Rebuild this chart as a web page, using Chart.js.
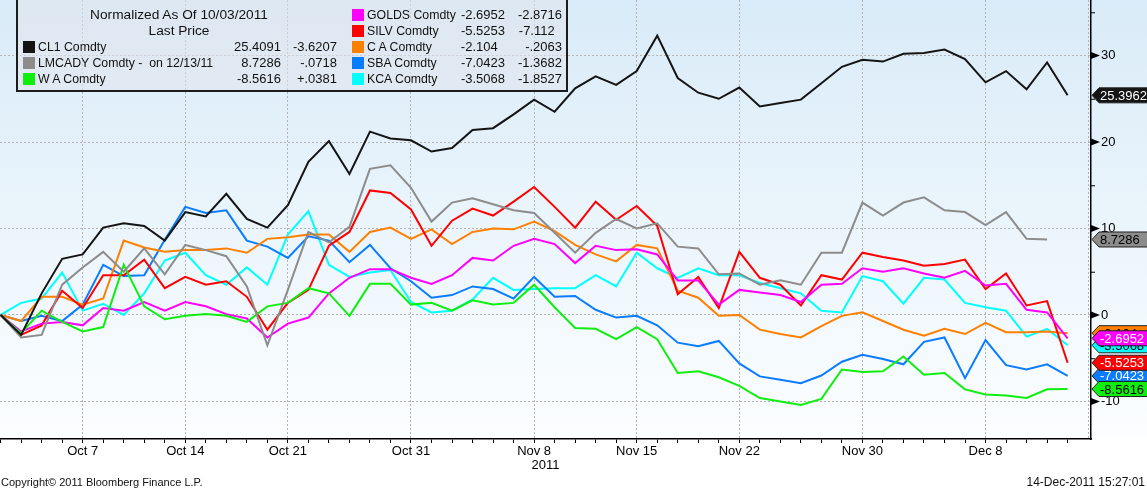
<!DOCTYPE html>
<html>
<head>
<meta charset="utf-8">
<script src="https://cdn.jsdelivr.net/npm/chart.js@4.4.0/dist/chart.umd.min.js"></script>
<style>
  html, body { margin: 0; padding: 0; background: #fff; }
  #wrap { position: relative; width: 1147px; height: 491px; overflow: hidden;
          font-family: "Liberation Sans", Arial, sans-serif; color: #111; }
  #chart { position: absolute; left: 0; top: 0; }
  #legendBox { position: absolute; left: 16px; top: -2px; width: 548px; height: 90px;
               border: 2px solid #1c1c1c; background: rgba(226, 230, 236, 0.55); }
  .txt { position: absolute; white-space: pre; line-height: 16px; height: 16px; }
  .sw { position: absolute; width: 12px; height: 12px; }
</style>
</head>
<body>
<div id="wrap">
  <canvas id="chart" width="1147" height="491"></canvas>
  <div id="legendBox"></div>
</div>
<script>
// Business days, Oct 3 - Dec 14 2011
const dates = [
    'Oct 3', 'Oct 4', 'Oct 5', 'Oct 6', 'Oct 7', 'Oct 10', 'Oct 11', 'Oct 12', 'Oct 13', 'Oct 14',
    'Oct 17', 'Oct 18', 'Oct 19', 'Oct 20', 'Oct 21', 'Oct 24', 'Oct 25', 'Oct 26', 'Oct 27', 'Oct 28',
    'Oct 31', 'Nov 1', 'Nov 2', 'Nov 3', 'Nov 4', 'Nov 7', 'Nov 8', 'Nov 9', 'Nov 10', 'Nov 11',
    'Nov 14', 'Nov 15', 'Nov 16', 'Nov 17', 'Nov 18', 'Nov 21', 'Nov 22', 'Nov 23', 'Nov 24', 'Nov 25',
    'Nov 28', 'Nov 29', 'Nov 30', 'Dec 1', 'Dec 2', 'Dec 5', 'Dec 6', 'Dec 7', 'Dec 8', 'Dec 9',
    'Dec 12', 'Dec 13', 'Dec 14'
];
const labelledDates = ['Oct 7', 'Oct 14', 'Oct 21', 'Oct 31', 'Nov 8', 'Nov 15', 'Nov 22', 'Nov 30', 'Dec 8'];
const yTicks = [-10, -5, 0, 5, 10, 15, 20, 25, 30, 35];

// Normalized series (as of 10/03/2011)
const cl1 = [0, -2.3, 2.5, 6.5, 7.0, 10.1, 10.6, 10.3, 8.6, 11.9, 11.4, 14.0, 11.1, 10.1, 12.7, 17.7, 20.1, 16.3, 21.2, 20.4,
    20.2, 18.9, 19.3, 21.4, 21.6, 23.2, 24.9, 23.5, 26.2, 27.6, 26.6, 28.2, 32.3, 27.4, 25.7, 25.0, 26.3, 24.1, 24.5, 24.9,
    26.8, 28.7, 29.5, 29.3, 30.2, 30.3, 30.7, 29.6, 26.9, 28.2, 26.1, 29.2, 25.3962];
const lmcady = [0, -2.6, -2.3, 3.5, 5.5, 7.3, 5.0, 7.7, 4.7, 8.1, 7.5, 6.8, 3.3, -3.5, 2.9, 9.6, 8.4, 10.2, 16.9, 17.3,
    14.7, 10.8, 13.0, 13.5, 12.8, 12.1, 11.8, 9.5, 7.2, 9.5, 11.1, 10.0, 10.6, 7.9, 7.7, 4.7, 4.8, 3.5, 4.0, 3.5,
    7.2, 7.2, 13.0, 11.5, 13.0, 13.6, 12.1, 11.9, 10.4, 11.9, 8.8, 8.7286, null];
const wheat = [0, -2.1, 0.5, -0.8, -1.9, -1.4, 5.8, 1.0, -0.5, -0.1, 0.1, -0.1, -0.8, 1.0, 1.4, 3.1, 2.5, -0.1, 3.6, 3.6,
    1.2, 1.4, 0.5, 1.7, 1.2, 1.4, 3.5, 0.9, -1.5, -1.6, -2.8, -1.4, -2.8, -6.7, -6.5, -7.2, -8.2, -9.6, -10.0, -10.4,
    -9.7, -6.3, -6.6, -6.5, -4.8, -6.9, -6.7, -8.6, -9.2, -9.3, -9.6, -8.6, -8.5616];
const golds = [0, -1.9, -1.0, -0.8, -1.2, 0.8, 0.5, 1.5, 0.5, 1.5, 1.0, 0.1, -0.4, -2.6, -1.0, -0.3, 2.5, 4.3, 5.3, 5.3,
    4.3, 3.6, 4.6, 6.6, 6.3, 8.0, 8.8, 8.2, 6.0, 8.0, 7.5, 7.6, 7.0, 4.0, 4.0, 1.2, 2.9, 2.6, 2.3, 1.5,
    3.5, 3.6, 5.4, 5.0, 5.4, 4.8, 4.3, 5.1, 3.4, 3.6, 0.6, 0.3, -2.6952];
const silv = [0, -2.3, -1.2, 2.8, 0.8, 4.6, 4.6, 6.4, 3.1, 4.4, 3.5, 3.9, 2.1, -1.7, 1.4, 2.9, 8.0, 9.6, 14.4, 14.1,
    12.2, 8.0, 10.9, 12.3, 11.5, 13.1, 14.8, 12.5, 10.1, 13.1, 11.0, 12.6, 10.3, 2.4, 4.4, 0.8, 7.3, 4.3, 3.5, 1.1,
    4.6, 4.1, 7.2, 6.7, 6.3, 5.7, 5.9, 6.4, 3.0, 4.8, 1.1, 1.6, -5.5253];
const corn = [0, -0.7, 2.1, 2.1, 1.2, 1.9, 8.6, 7.8, 7.3, 7.5, 7.5, 7.7, 7.2, 8.8, 9.0, 9.3, 9.3, 7.3, 9.6, 10.1,
    8.8, 9.9, 8.2, 9.6, 10.0, 9.9, 10.8, 9.7, 8.1, 7.0, 6.2, 8.1, 7.7, 2.8, 2.0, -0.1, 0.0, -1.7, -2.2, -2.6,
    -1.3, -0.1, 0.3, -0.7, -1.7, -2.4, -1.6, -2.2, -0.9, -2.0, -2.0, -1.9, -2.104];
const sugar = [0, -0.7, -0.1, -0.7, 1.2, 5.8, 4.5, 4.6, 8.7, 12.5, 11.8, 12.1, 8.6, 7.9, 6.6, 9.1, 8.6, 6.1, 8.1, 5.4,
    3.9, 2.0, 2.3, 3.3, 3.0, 1.9, 4.4, 2.1, 2.2, 0.6, -0.3, -0.1, -1.2, -3.2, -3.6, -3.0, -5.6, -7.1, -7.5, -7.9,
    -7.0, -5.4, -4.6, -5.1, -5.7, -3.1, -2.6, -7.3, -2.9, -5.8, -6.3, -5.7, -7.0423];
const coffee = [0, 1.4, 1.9, 4.9, 0.5, 1.3, 0.0, 2.5, 6.3, 7.2, 4.6, 3.5, 5.5, 3.5, 9.3, 12.0, 5.8, 4.4, 4.9, 5.2,
    1.5, 0.3, 0.5, 1.8, 4.3, 2.9, 3.0, 3.1, 3.1, 4.6, 3.3, 7.2, 5.4, 4.3, 5.4, 4.6, 4.6, 3.7, 3.1, 2.5,
    0.5, 0.3, 4.5, 3.9, 1.3, 4.3, 4.1, 1.4, 0.9, 0.5, -2.5, -1.6, -3.5068];

// Legend texts
const names = ['CL1 Comdty', 'LMCADY Comdty -  on 12/13/11', 'W A Comdty', 'GOLDS Comdty',
    'SILV Comdty', 'C A Comdty', 'SBA Comdty', 'KCA Comdty'];
const lastPrice = ['25.4091', '8.7286', '-8.5616', '-2.6952', '-5.5253', '-2.104', '-7.0423', '-3.5068'];
const netChange = ['-3.6207', '-.0718', '+.0381', '-2.8716', '-7.112', '-.2063', '-1.3682', '-1.8527'];
const colors = ['#141414', '#8c8c8c', '#10ee10', '#ff00ff', '#ff0000', '#ff8000', '#0a7dff', '#00ffff'];
const tagText = ['#fff', '#000', '#000', '#fff', '#fff', '#000', '#fff', '#000'];
const series = [cl1, lmcady, wheat, golds, silv, corn, sugar, coffee];

// Build legend overlay
const wrap = document.getElementById('wrap');
function addText(text, x, yc, align, size) {
    const el = document.createElement('div');
    el.className = 'txt';
    el.textContent = text;
    el.style.top = (yc - 8) + 'px';
    el.style.fontSize = (size || 13) + 'px';
    if (align === 'right') {
        el.style.right = (1147 - x) + 'px';
    } else if (align === 'center') {
        el.style.left = (x - 200) + 'px';
        el.style.width = '400px';
        el.style.textAlign = 'center';
    } else {
        el.style.left = x + 'px';
    }
    wrap.appendChild(el);
}
function decShift(s) {
    const dec = s.split('.')[1].length;
    return (4 - dec) * 7.3;
}
addText('Normalized As Of 10/03/2011', 179, 15, 'center', 13.7);
addText('Last Price', 179, 31, 'center', 13.7);
names.forEach((name, i) => {
    const left = i < 3;
    const yc = left ? 47 + i * 16 : 15 + (i - 3) * 16;
    const sx = left ? 23 : 352;
    const sw = document.createElement('div');
    sw.className = 'sw';
    sw.style.left = sx + 'px';
    sw.style.top = (yc - 6) + 'px';
    sw.style.background = colors[i];
    wrap.appendChild(sw);
    addText(name, sx + 15, yc, 'left', 12.3);
    addText(lastPrice[i], (left ? 281 : 505) - decShift(lastPrice[i]), yc, 'right');
    addText(netChange[i], (left ? 337 : 562) - decShift(netChange[i]), yc, 'right');
});
addText('Copyright\u00a9 2011 Bloomberg Finance L.P.', 1, 482, 'left', 11);
addText('14-Dec-2011 15:27:01', 1145, 482, 'right', 12);

// Page background gradient
const backgroundPlugin = {
    id: 'bg',
    beforeDraw(chart) {
        const ctx = chart.ctx;
        const g = ctx.createLinearGradient(0, 0, 0, chart.chartArea.bottom);
        g.addColorStop(0, '#d9ebf8');
        g.addColorStop(1, '#fcfeff');
        ctx.save();
        ctx.fillStyle = '#fff';
        ctx.fillRect(0, 0, chart.width, chart.height);
        ctx.fillStyle = g;
        ctx.fillRect(0, 0, chart.width, chart.chartArea.bottom);
        ctx.restore();
    }
};

// Right axis arrow ticks and last value tags
const axisDecorPlugin = {
    id: 'axisDecor',
    afterDraw(chart) {
        const ctx = chart.ctx;
        const ys = chart.scales.y;
        const xr = chart.chartArea.right;
        ctx.save();
        // dotted edge line just inside the right axis
        ctx.strokeStyle = '#b4b4b4';
        ctx.lineWidth = 1;
        ctx.setLineDash([2, 2]);
        ctx.beginPath();
        ctx.moveTo(xr - 2.5, 0);
        ctx.lineTo(xr - 2.5, chart.chartArea.bottom);
        ctx.stroke();
        ctx.setLineDash([]);
        ctx.fillStyle = '#000';
        ctx.strokeStyle = '#000';
        ys.ticks.forEach(t => {
            const y = ys.getPixelForValue(t.value);
            if (t.value % 10 === 0) {
                ctx.beginPath();
                ctx.moveTo(xr, y - 3.5);
                ctx.lineTo(xr + 9, y);
                ctx.lineTo(xr, y + 3.5);
                ctx.closePath();
                ctx.fill();
            } else {
                ctx.beginPath();
                ctx.moveTo(xr, y + 0.5);
                ctx.lineTo(xr + 4, y + 0.5);
                ctx.stroke();
            }
        });
        // tags, drawn last series first
        ctx.font = '13px "Liberation Sans", Arial, sans-serif';
        ctx.textBaseline = 'middle';
        for (let i = series.length - 1; i >= 0; i--) {
            const data = series[i];
            let v = null;
            for (let k = data.length - 1; k >= 0; k--) {
                if (data[k] !== null) { v = data[k]; break; }
            }
            const y = ys.getPixelForValue(v);
            ctx.beginPath();
            ctx.moveTo(xr + 1, y);
            ctx.lineTo(xr + 8, y - 7.5);
            ctx.lineTo(chart.width + 2, y - 7.5);
            ctx.lineTo(chart.width + 2, y + 7.5);
            ctx.lineTo(xr + 8, y + 7.5);
            ctx.closePath();
            ctx.fillStyle = colors[i];
            ctx.fill();
            ctx.strokeStyle = '#222';
            ctx.stroke();
            ctx.fillStyle = tagText[i];
            ctx.fillText(String(v), xr + 9, y + 1);
        }
        ctx.restore();
    }
};

const ctx = document.getElementById('chart').getContext('2d');
new Chart(ctx, {
    type: 'line',
    data: {
        datasets: series.map((s, i) => ({
            label: names[i],
            data: s.map((v, k) => ({ x: k, y: v })),
            borderColor: colors[i],
            backgroundColor: colors[i],
            borderWidth: 2,
            pointRadius: 0,
            tension: 0,
            spanGaps: false
        }))
    },
    options: {
        responsive: false,
        animation: false,
        devicePixelRatio: 1,
        layout: { padding: 0 },
        plugins: {
            legend: { display: false },
            tooltip: { enabled: false }
        },
        scales: {
            x: {
                type: 'linear',
                min: -0.03,
                max: 53.14,
                afterBuildTicks: s => { s.ticks = dates.map((d, i) => ({ value: i })); },
                afterFit: s => { s.height = 52; s.paddingLeft = 0; s.paddingRight = 0; },
                ticks: {
                    autoSkip: false,
                    maxRotation: 0,
                    padding: 1,
                    color: '#000',
                    font: { size: 13, family: '"Liberation Sans", Arial, sans-serif' },
                    callback: v => labelledDates.includes(dates[v]) ? dates[v] : ''
                },
                grid: {
                    color: c => (c.tick && labelledDates.includes(dates[c.tick.value])) ? '#b4b4b4' : 'rgba(0,0,0,0)',
                    tickColor: '#000',
                    tickLength: 4,
                    lineWidth: 1
                },
                border: { display: true, color: '#000', width: 1.5, dash: [2, 2] },
                title: {
                    display: true,
                    text: '2011',
                    color: '#000',
                    font: { size: 13, family: '"Liberation Sans", Arial, sans-serif' },
                    padding: { top: 0, bottom: 18 }
                }
            },
            y: {
                position: 'right',
                min: -14.34,
                max: 36.42,
                afterBuildTicks: s => { s.ticks = yTicks.map(v => ({ value: v })); },
                afterFit: s => { s.width = 56; s.paddingTop = 0; s.paddingBottom = 0; },
                ticks: {
                    padding: 10,
                    color: '#000',
                    font: { size: 13, family: '"Liberation Sans", Arial, sans-serif' },
                    callback: v => v % 10 === 0 ? String(v) : ''
                },
                grid: {
                    color: c => (c.tick && c.tick.value % 10 === 0) ? '#b4b4b4' : 'rgba(0,0,0,0)',
                    drawTicks: false,
                    lineWidth: 1
                },
                border: { display: true, color: '#000', width: 1.5, dash: [2, 2] }
            }
        }
    },
    plugins: [backgroundPlugin, axisDecorPlugin]
});
</script>
</body>
</html>
